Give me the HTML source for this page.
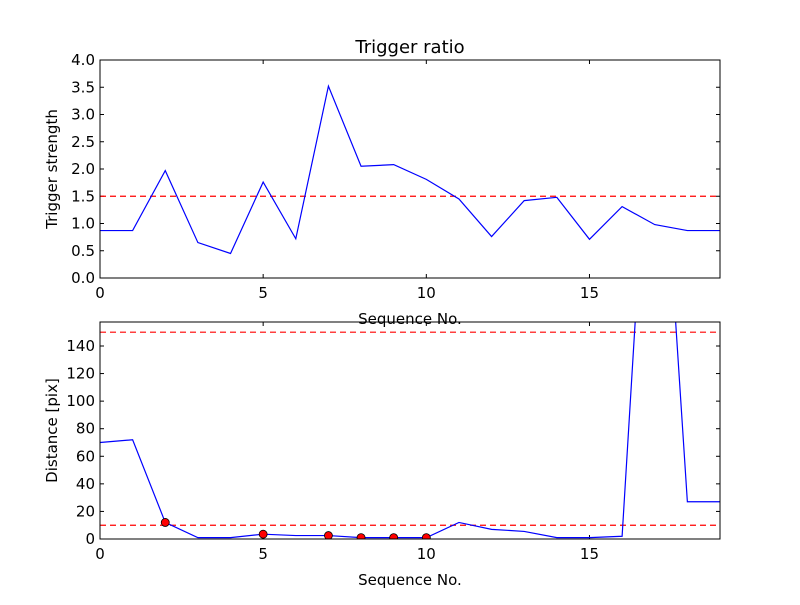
<!DOCTYPE html>
<html><head><meta charset="utf-8"><style>
body{margin:0;background:#fff}
svg text{font-family:"DejaVu Sans","Liberation Sans",sans-serif;}
</style></head><body>
<svg id="chart" width="800" height="600" viewBox="0 0 800 600" xmlns="http://www.w3.org/2000/svg">
<rect width="800" height="600" fill="#fff"/>
<defs>
<clipPath id="c1"><rect x="100" y="60" width="620" height="218"/></clipPath>
<clipPath id="c2"><rect x="100" y="322" width="620" height="217"/></clipPath>
</defs>
<g id="g"></g>
</svg>
<script>
const seq = [0,1,2,3,4,5,6,7,8,9,10,11,12,13,14,15,16,17,18,19];
const strength = [0.87,0.87,1.97,0.65,0.45,1.76,0.72,3.52,2.05,2.08,1.81,1.45,0.76,1.42,1.48,0.71,1.31,0.98,0.87,0.87];
const strengthThreshold = 1.5;
const distance = [70,72,12,1,1,3.5,2.5,2.5,1,1,1,12,7,5.5,1,1,2,390,27,27];
const distThresholds = [150,10];
const flagged = [2,5,7,8,9,10];
const xTicks = [0,5,10,15];
const yTicks1 = [0,0.5,1.0,1.5,2.0,2.5,3.0,3.5,4.0];
const yTicks2 = [0,20,40,60,80,100,120,140];

const NS="http://www.w3.org/2000/svg";
const g=document.getElementById('g');
function mk(tag,attrs,parent){const e=document.createElementNS(NS,tag);for(const k in attrs)e.setAttribute(k,attrs[k]);(parent||g).appendChild(e);return e;}
const L=100,R=720;
const xs=v=>L+(v-0)/(19-0)*(R-L);

function panel(top,bot,ymax,yTicks,fmt,ylabel,clip,name){
  const ys=v=>bot-(v/ymax)*(bot-top);
  const grp=mk('g',{});
  
  
  xTicks.forEach(t=>{
    const x=xs(t);
    mk('line',{x1:x,x2:x,y1:bot,y2:bot-4,stroke:'#000'},grp);
    mk('line',{x1:x,x2:x,y1:top,y2:top+4,stroke:'#000'},grp);
    const tx=mk('text',{x:x,y:bot+20,'text-anchor':'middle','font-size':15},grp);
    tx.textContent=t;
    
    
  });
  yTicks.forEach(t=>{
    const y=ys(t);
    mk('line',{x1:L,x2:L+4,y1:y,y2:y,stroke:'#000'},grp);
    mk('line',{x1:R,x2:R-4,y1:y,y2:y,stroke:'#000'},grp);
    const tx=mk('text',{x:L-5,y:y+5,'text-anchor':'end','font-size':15},grp);
    tx.textContent=fmt(t);
    
    
  });
  const xl=mk('text',{x:(L+R)/2,y:bot+46,'text-anchor':'middle','font-size':15},grp);
  xl.textContent='Sequence No.';
  
  
  const yl=mk('text',{x:0,y:0,'text-anchor':'middle','font-size':15,transform:`translate(57,${(top+bot)/2}) rotate(-90)`},grp);
  yl.textContent=ylabel;
  
  
  const data=mk('g',{'clip-path':`url(#${clip})`},grp);
  return {ys,data,grp,top,bot};
}

const p1=panel(60,278,4,yTicks1,t=>t.toFixed(1),'Trigger strength','c1','top-panel');
const ttl=mk('text',{x:410,y:53,'text-anchor':'middle','font-size':18});
ttl.textContent='Trigger ratio';


const th1=mk('line',{x1:L,x2:R,y1:p1.ys(strengthThreshold),y2:p1.ys(strengthThreshold),stroke:'#f00','stroke-dasharray':'6,4','stroke-width':1.2},p1.data);


const l1=mk('polyline',{points:seq.map((s,i)=>xs(s)+','+p1.ys(strength[i])).join(' '),fill:'none',stroke:'#00f','stroke-width':1.2},p1.data);


mk('rect',{x:L,y:60,width:R-L,height:218,fill:'none',stroke:'#000'},p1.grp);

const p2=panel(322,539,157.4,yTicks2,t=>String(t),'Distance [pix]','c2','bottom-panel');
distThresholds.forEach(v=>{
  const l=mk('line',{x1:L,x2:R,y1:p2.ys(v),y2:p2.ys(v),stroke:'#f00','stroke-dasharray':'6,4','stroke-width':1.2},p2.data);
  
  
});
const l2=mk('polyline',{points:seq.map((s,i)=>xs(s)+','+p2.ys(distance[i])).join(' '),fill:'none',stroke:'#00f','stroke-width':1.2},p2.data);


flagged.forEach(i=>{
  const c=mk('circle',{cx:xs(seq[i]),cy:p2.ys(distance[i]),r:4,fill:'#f00',stroke:'#000','stroke-width':0.8},p2.data);
  
  
});
mk('rect',{x:L,y:322,width:R-L,height:217,fill:'none',stroke:'#000'},p2.grp);
</script>
</body></html>
